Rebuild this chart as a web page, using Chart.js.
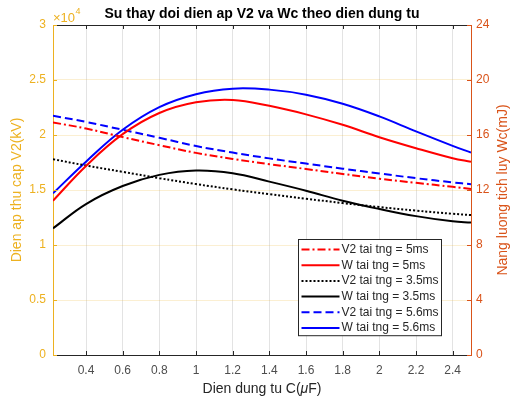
<!DOCTYPE html>
<html lang="vi">
<head>
<meta charset="UTF-8">
<title>Su thay doi dien ap V2 va Wc theo dien dung tu</title>
<style>
  body { margin: 0; background: #fff; }
  canvas { display: block; }
</style>
</head>
<body>
<canvas id="chart" width="511" height="398"></canvas>
<script src="https://cdn.jsdelivr.net/npm/chart.js"></script>
<script>
// capacitance C (uF)
const capC = [0.22, 0.4, 0.6, 0.8, 1.0, 1.2, 1.4, 1.6, 1.8, 2.0, 2.2, 2.4, 2.5];

// secondary voltage V2 (kV), left axis
const v2Tng5   = [21140, 20590, 19810, 19075, 18375, 17825, 17350, 16910, 16460, 16025, 15650, 15290, 15100];
const v2Tng35  = [17800, 17225, 16650, 16075, 15540, 15060, 14625, 14210, 13810, 13450, 13125, 12840, 12725];
const v2Tng56  = [21750, 21190, 20475, 19750, 19000, 18400, 17875, 17400, 16940, 16500, 16075, 15690, 15525];

// stored energy Wc (mJ), right axis
const wTng5    = [11.22, 13.75, 16.06, 17.60, 18.38, 18.55, 18.12, 17.50, 16.74, 15.84, 15.04, 14.31, 14.05];
const wTng35   = [9.21, 10.98, 12.29, 13.10, 13.42, 13.22, 12.61, 11.95, 11.22, 10.62, 10.10, 9.72, 9.64];
const wTng56   = [11.76, 14.06, 16.38, 18.03, 18.97, 19.37, 19.30, 18.93, 18.27, 17.35, 16.26, 15.21, 14.72];

const xTicks = [0.4, 0.6, 0.8, 1.0, 1.2, 1.4, 1.6, 1.8, 2.0, 2.2, 2.4];
const leftTicks = [0, 5000, 10000, 15000, 20000, 25000, 30000];
const rightTicks = [0, 4, 8, 12, 16, 20, 24];

const FONT = '"Liberation Sans", Arial, sans-serif';
const LEFT_COLOR = '#EDB120';
const RIGHT_COLOR = '#D95319';
const AXIS_COLOR = '#262626';

function pts(ys) {
  return capC.map((x, i) => ({ x: x, y: ys[i] }));
}

function line(label, ys, axis, color, dash) {
  return {
    label: label,
    data: pts(ys),
    yAxisID: axis,
    borderColor: color,
    backgroundColor: color,
    borderWidth: 2,
    borderDash: dash,
    pointRadius: 0,
    tension: 0.4,
    fill: false
  };
}

const datasets = [
  line('V2 tai tng = 5ms',   v2Tng5,  'yV', '#FF0000', [8, 3, 2, 3]),
  line('W tai tng = 5ms',    wTng5,   'yW', '#FF0000', []),
  line('V2 tai tng = 3.5ms', v2Tng35, 'yV', '#000000', [2, 2]),
  line('W tai tng = 3.5ms',  wTng35,  'yW', '#000000', []),
  line('V2 tai tng = 5.6ms', v2Tng56, 'yV', '#0000FF', [8, 4]),
  line('W tai tng = 5.6ms',  wTng56,  'yW', '#0000FF', [])
];

// axis titles, inward ticks, box top, exponent label and legend
const decor = {
  id: 'decor',
  afterDraw(chart) {
    const ctx = chart.ctx;
    const a = chart.chartArea;
    const sx = chart.scales.x, sl = chart.scales.yV, sr = chart.scales.yW;
    ctx.save();

    // top edge of the box
    ctx.strokeStyle = AXIS_COLOR;
    ctx.lineWidth = 1;
    ctx.beginPath();
    ctx.moveTo(a.left, a.top + 0.5);
    ctx.lineTo(a.right, a.top + 0.5);
    ctx.stroke();

    // inward tick marks
    const tl = 4;
    ctx.beginPath();
    xTicks.forEach(v => {
      const px = Math.round(sx.getPixelForValue(v)) + 0.5;
      ctx.moveTo(px, a.bottom); ctx.lineTo(px, a.bottom - tl);
      ctx.moveTo(px, a.top); ctx.lineTo(px, a.top + tl);
    });
    ctx.stroke();
    ctx.strokeStyle = LEFT_COLOR;
    ctx.beginPath();
    leftTicks.forEach(v => {
      const py = Math.round(sl.getPixelForValue(v)) + 0.5;
      ctx.moveTo(a.left, py); ctx.lineTo(a.left + tl, py);
    });
    ctx.stroke();
    ctx.strokeStyle = RIGHT_COLOR;
    ctx.beginPath();
    rightTicks.forEach(v => {
      const py = Math.round(sr.getPixelForValue(v)) + 0.5;
      ctx.moveTo(a.right, py); ctx.lineTo(a.right - tl, py);
    });
    ctx.stroke();

    // title
    ctx.fillStyle = '#000';
    ctx.font = 'bold 14px ' + FONT;
    ctx.textAlign = 'center';
    ctx.textBaseline = 'middle';
    ctx.fillText('Su thay doi dien ap V2 va Wc theo dien dung tu', (a.left + a.right) / 2, 14);

    // x title with italic mu
    ctx.fillStyle = AXIS_COLOR;
    const p1 = 'Dien dung tu C(', p2 = '\u03BC', p3 = 'F)';
    ctx.font = '14px ' + FONT;
    const w1 = ctx.measureText(p1).width, w3 = ctx.measureText(p3).width;
    ctx.font = 'italic 14px ' + FONT;
    const w2 = ctx.measureText(p2).width;
    const tx = (a.left + a.right) / 2 - (w1 + w2 + w3) / 2;
    ctx.textAlign = 'left';
    ctx.font = '14px ' + FONT;
    ctx.fillText(p1, tx, 389);
    ctx.font = 'italic 14px ' + FONT;
    ctx.fillText(p2, tx + w1, 389);
    ctx.font = '14px ' + FONT;
    ctx.fillText(p3, tx + w1 + w2, 389);

    // y titles, both read bottom to top
    const midY = (a.top + a.bottom) / 2;
    ctx.textAlign = 'center';
    ctx.fillStyle = LEFT_COLOR;
    ctx.save();
    ctx.translate(17, midY);
    ctx.rotate(-Math.PI / 2);
    ctx.fillText('Dien ap thu cap V2(kV)', 0, 0);
    ctx.restore();
    ctx.fillStyle = RIGHT_COLOR;
    ctx.save();
    ctx.translate(503, midY);
    ctx.rotate(-Math.PI / 2);
    ctx.fillText('Nang luong tich luy Wc(mJ)', 0, 0);
    ctx.restore();

    // x10^4 exponent for left axis
    ctx.fillStyle = LEFT_COLOR;
    ctx.textAlign = 'left';
    ctx.font = '13px ' + FONT;
    ctx.fillText('\u00D710', a.left, 18);
    const ew = ctx.measureText('\u00D710').width;
    ctx.font = '9px ' + FONT;
    ctx.fillText('4', a.left + ew + 0.5, 12);

    // legend
    const lx = 298.5, ly = 239.5, lw = 143, rowH = 15.7;
    const lh = rowH * datasets.length + 2;
    ctx.fillStyle = '#fff';
    ctx.fillRect(lx, ly, lw, lh);
    ctx.strokeStyle = AXIS_COLOR;
    ctx.lineWidth = 1;
    ctx.setLineDash([]);
    ctx.strokeRect(lx, ly, lw, lh);
    ctx.font = '12px ' + FONT;
    ctx.textBaseline = 'middle';
    chart.data.datasets.forEach((ds, i) => {
      const y = ly + 10 + i * rowH;
      ctx.strokeStyle = ds.borderColor;
      ctx.lineWidth = 2;
      ctx.setLineDash(ds.borderDash);
      ctx.beginPath();
      ctx.moveTo(lx + 3, y);
      ctx.lineTo(lx + 41, y);
      ctx.stroke();
      ctx.setLineDash([]);
      ctx.fillStyle = AXIS_COLOR;
      ctx.fillText(ds.label, lx + 43, y);
    });

    ctx.restore();
  }
};

new Chart(document.getElementById('chart'), {
  type: 'line',
  data: { datasets: datasets },
  options: {
    responsive: false,
    animation: false,
    layout: { padding: { top: 25, left: 0, right: 0, bottom: 0 } },
    plugins: {
      legend: { display: false },
      title: { display: false },
      tooltip: { enabled: false }
    },
    scales: {
      x: {
        type: 'linear',
        min: 0.22,
        max: 2.5,
        afterBuildTicks: s => { s.ticks = xTicks.map(v => ({ value: v })); },
        afterFit: s => { s.height = 43; },
        grid: { color: 'rgba(38,38,38,0.13)', drawTicks: false },
        border: { color: AXIS_COLOR, width: 1 },
        ticks: {
          color: '#4D4D4D',
          font: { family: FONT, size: 12 },
          padding: 8,
          maxRotation: 0,
          callback: v => String(Math.round(v * 10) / 10)
        }
      },
      yV: {
        type: 'linear',
        position: 'left',
        min: 0,
        max: 30000,
        afterBuildTicks: s => { s.ticks = leftTicks.map(v => ({ value: v })); },
        afterFit: s => { s.width = 53; },
        grid: { color: 'rgba(237,177,32,0.2)', drawTicks: false },
        border: { color: LEFT_COLOR, width: 1 },
        ticks: {
          color: LEFT_COLOR,
          font: { family: FONT, size: 12 },
          padding: 7,
          callback: v => String(v / 10000)
        }
      },
      yW: {
        type: 'linear',
        position: 'right',
        min: 0,
        max: 24,
        afterBuildTicks: s => { s.ticks = rightTicks.map(v => ({ value: v })); },
        afterFit: s => { s.width = 40; },
        grid: { display: false, drawTicks: false },
        border: { color: RIGHT_COLOR, width: 1 },
        ticks: {
          color: RIGHT_COLOR,
          font: { family: FONT, size: 12 },
          padding: 5
        }
      }
    }
  },
  plugins: [decor]
});
</script>
</body>
</html>
